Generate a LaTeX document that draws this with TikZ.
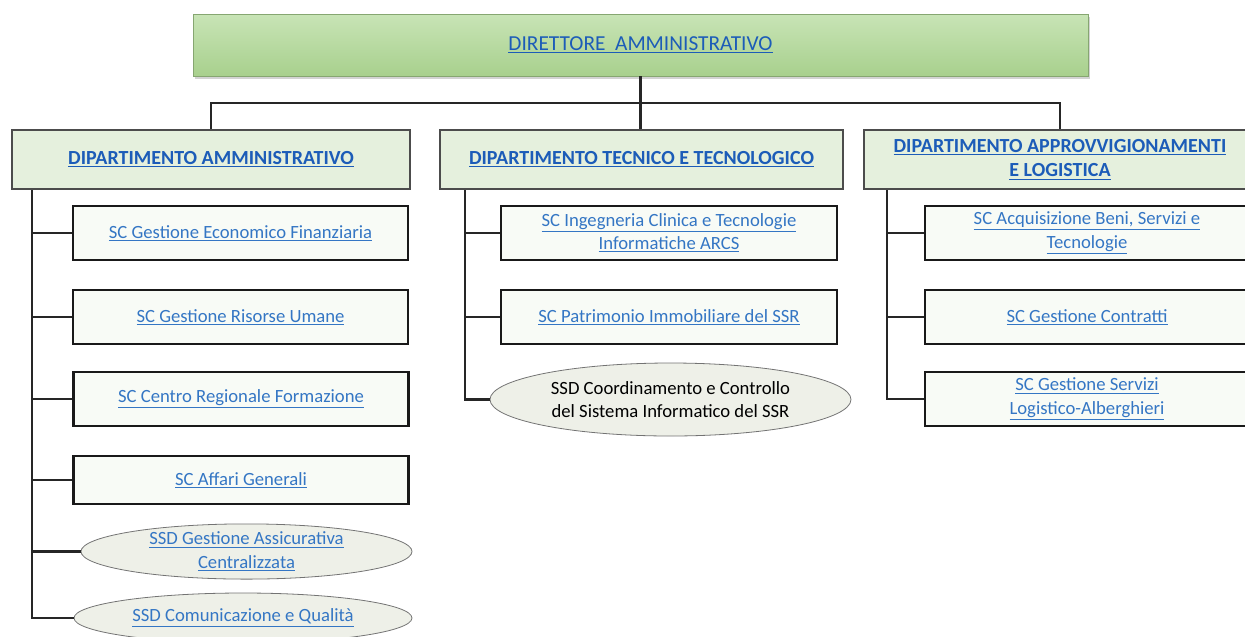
\documentclass[tikz,border=0pt]{standalone}
\usepackage{fontspec}
\setmainfont{Carlito}
\usetikzlibrary{shapes.geometric,shadows}

\definecolor{linkblue}{RGB}{52,118,196}
\definecolor{deptblue}{RGB}{28,92,184}
\definecolor{deptfill}{RGB}{229,240,221}
\definecolor{unitfill}{RGB}{248,251,246}
\definecolor{ovalfill}{RGB}{238,240,232}
\definecolor{topgreen}{RGB}{168,208,141}
\definecolor{toplight}{RGB}{200,228,182}

\newcommand{\lnk}[1]{\underline{#1}}

\tikzset{
  topbox/.style={rectangle, draw=topgreen!80!black, line width=0.5pt,
    top color=toplight, bottom color=topgreen,
    drop shadow={shadow xshift=1.5pt, shadow yshift=-2pt, opacity=0.35},
    text=deptblue, font=\fontsize{16}{19}\selectfont, align=center},
  deptbox/.style={rectangle, draw=black!70, line width=2pt, fill=deptfill,
    text=deptblue, font=\fontsize{15}{18.5}\selectfont\bfseries, align=center},
  unitbox/.style={rectangle, draw=black!90, line width=1.6pt, fill=unitfill,
    text=linkblue, align=center},
  unitoval/.style={ellipse, draw=black!55, line width=0.6pt, fill=ovalfill,
    inner sep=0pt, text=linkblue, align=center},
  conn/.style={draw=black!85, line width=1.6pt}
}

\begin{document}
\begin{tikzpicture}[x=0.75pt, y=-0.75pt, font=\fontsize{14}{17.5}\selectfont]
  \useasboundingbox (0,0) rectangle (1245,636);

  % direzione
  \node[topbox, minimum width=895*0.75pt, minimum height=62*0.75pt] (Dir) at (640.5,45)
    {\lnk{DIRETTORE\ \ AMMINISTRATIVO}};

  % dipartimenti
  \begin{scope}[every node/.style={deptbox, minimum height=59*0.75pt}]
    \node[minimum width=398*0.75pt] (DAmm) at (211,159.5) {\lnk{DIPARTIMENTO AMMINISTRATIVO}};
    \node[minimum width=403*0.75pt] (DTec) at (641.5,159.5) {\lnk{DIPARTIMENTO TECNICO E TECNOLOGICO}};
    \node[minimum width=392*0.75pt] (DApp) at (1060,159.5)
      {\lnk{DIPARTIMENTO APPROVVIGIONAMENTI}\\\lnk{E LOGISTICA}};
  \end{scope}

  % strutture del dipartimento amministrativo
  \begin{scope}[every node/.style={unitbox, minimum width=335*0.75pt, minimum height=54*0.75pt}]
    \node (A1) at (240.5,233) {\lnk{SC Gestione Economico Finanziaria}};
    \node (A2) at (240.5,317) {\lnk{SC Gestione Risorse Umane}};
    \node (A3) at (241,399) {\lnk{SC Centro Regionale Formazione}};
    \node[minimum height=48*0.75pt] (A4) at (241,480) {\lnk{SC Affari Generali}};
  \end{scope}
  \node[unitoval, minimum width=331*0.75pt, minimum height=53*0.75pt] (A5) at (246.5,551.5)
    {\lnk{SSD Gestione Assicurativa}\\\lnk{Centralizzata}};
  \node[unitoval, minimum width=338*0.75pt, minimum height=50*0.75pt] (A6) at (243,618)
    {\lnk{SSD Comunicazione e Qualità}};

  % strutture del dipartimento tecnico
  \begin{scope}[every node/.style={unitbox, minimum width=336*0.75pt, minimum height=54*0.75pt}]
    \node (T1) at (669,233) {\lnk{SC Ingegneria Clinica e Tecnologie}\\\lnk{Informatiche ARCS}};
    \node (T2) at (669,317) {\lnk{SC Patrimonio Immobiliare del SSR}};
  \end{scope}
  \node[unitoval, text=black, minimum width=361*0.75pt, minimum height=73*0.75pt] (T3) at (670.5,399.5)
    {SSD Coordinamento e Controllo\\del Sistema Informatico del SSR};

  % strutture del dipartimento approvvigionamenti
  \begin{scope}[every node/.style={unitbox, minimum width=324*0.75pt, minimum height=54*0.75pt}]
    \node (P1) at (1087,233) {\lnk{SC Acquisizione Beni, Servizi e}\\\lnk{Tecnologie}};
    \node (P2) at (1087,317) {\lnk{SC Gestione Contratti}};
    \node (P3) at (1087,399) {\lnk{SC Gestione Servizi}\\\lnk{Logistico-Alberghieri}};
  \end{scope}

  % collegamenti
  \draw[conn] (Dir.south) -- (Dir.south |- DTec.north);
  \draw[conn] (DAmm.north) -- ++(0,-26) -| (DApp.north);
  \path (DAmm.south west) ++(21,0) coordinate (tA);
  \path (DTec.south west) ++(26,0) coordinate (tT);
  \path (DApp.south west) ++(24,0) coordinate (tP);
  \foreach \u in {A1,A2,A3,A4,A5,A6} \draw[conn] (tA) |- (\u.west);
  \foreach \u in {T1,T2,T3} \draw[conn] (tT) |- (\u.west);
  \foreach \u in {P1,P2,P3} \draw[conn] (tP) |- (\u.west);
\end{tikzpicture}
\end{document}
